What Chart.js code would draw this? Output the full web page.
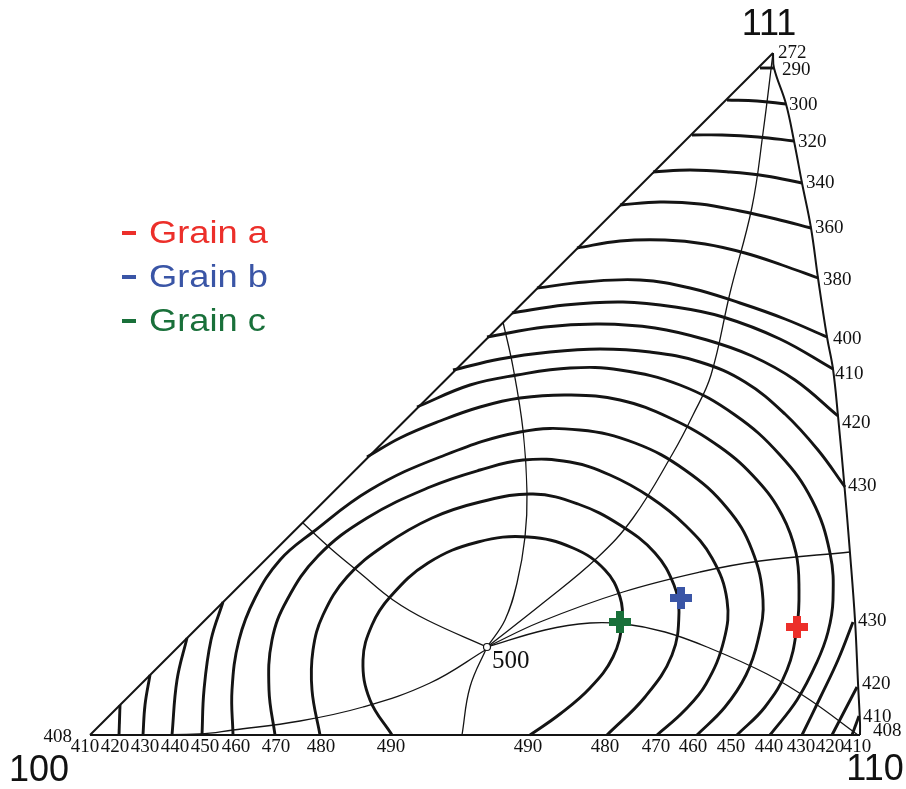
<!DOCTYPE html>
<html>
<head>
<meta charset="utf-8">
<script src="https://cdn.jsdelivr.net/npm/chart.js@4.4.1/dist/chart.umd.min.js"></script>
<style>
  html, body { margin: 0; padding: 0; background: #fff; }
  #wrap { width: 906px; height: 789px; }
</style>
</head>
<body>
<div id="wrap"><canvas id="ipf"></canvas></div>
<script>
// all coordinates are in figure units (x right, y down)

// triangle outline
const leftEdge = [[90,735],[773,53]];
const bottomEdge = [[90,735],[860,735]];
const rightEdge = [[773,53],[774,68],[786,104],[794,141],[802,183],[811,228],[818,278],[827,337],[833,369],[838,416],[844,481],[850,553],[855,620],[858,683],[860,723],[860,735]];

// contours running from the left edge to the right edge
const c290 = [[760,68],[767,68],[774,68]];
const c300 = [[727,100],[757,101],[786,104]];
const c320 = [[692,135],[722,135],[758,137],[794,141]];
const c340 = [[653,172],[690,170],[730,172],[766,176],[802,183]];
const c360 = [[620,205],[660,202],[700,204],[740,211],[776,219],[811,228]];
const c380 = [[577,248],[620,241],[665,240],[705,244],[745,253],[782,265],[818,278]];
const c400 = [[537,288],[585,282],[640,280],[690,288],[740,303],[785,319],[827,337]];
const c410 = [[512,313],[565,305],[623,302],[675,307],[723,317],[780,339],[833,369]];
const c420 = [[487,337],[545,327],[600,324],[655,328],[707,340],[752,356],[795,380],[838,416]];
const c430 = [[453,370],[500,359],[550,352],[600,349],[650,352],[700,362],[745,382],[785,414],[818,450],[845,487]];

// contours from the left edge round to the bottom
const c440 = [[417,407],[470,385],[517,375],[570,368],[620,370],[680,385],[735,415],[780,455],[812,500],[830,553],[833,600],[828,632],[817,662],[797,700],[770,735]];
const c450 = [[367,457],[400,438],[440,421],[480,407],[520,398],[570,395],[620,400],[670,418],[720,447],[757,480],[782,515],[796,553],[799,590],[797,627],[787,670],[765,707],[737,735]];

// closed arches round the 500 maximum
const c460 = [[233,735],[232,690],[239,640],[255,598],[280,560],[313,532],[370,490],[440,457],[520,432],[580,430],[635,443],[685,470],[727,508],[752,550],[763,600],[758,640],[746,675],[725,707],[697,735]];
const c470 = [[275,735],[269,690],[272,640],[287,600],[318,556],[367,518],[430,487],[480,470],[523,460],[570,462],[610,475],[650,497],[685,525],[712,558],[727,600],[724,640],[706,684],[684,711],[657,735]];
const c480 = [[320,735],[312,690],[313,650],[323,615],[347,577],[385,545],[432,518],[480,502],[533,494],[578,504],[620,525],[655,553],[674,585],[679,612],[672,655],[645,697],[607,735]];
const c490 = [[392,735],[370,700],[363,660],[372,625],[390,597],[428,563],[478,542],[528,537],[573,548],[605,570],[620,597],[622,623],[613,657],[590,688],[560,714],[530,735]];

// short pieces in the two bottom corners
const c430r = [[853,622],[838,660],[820,698],[802,735]];
const c420r = [[857,687],[845,710],[832,735]];
const c410r = [[859,716],[852,735]];
const c450l = [[223,602],[211,640],[204,690],[202,735]];
const c440l = [[187,638],[177,680],[172,735]];
const c430l = [[150,675],[145,705],[143,735]];
const c420l = [[120,705],[119,735]];

// thin lines through the 500 point
const peak = [487,647];
const thinToApex = [[487,647],[543,603],[597,558],[633,518],[673,453],[693,415],[711,375],[730,293],[752,207],[763,133],[773,53]];
const thinToRight = [[487,647],[540,622],[623,592],[700,572],[760,561],[850,552]];
const thinToCorner = [[487,647],[545,630],[590,623],[625,624],[665,632],[707,647],[767,674],[810,700],[858,735]];
const thinUp = [[487,647],[505,620],[517,583],[525,537],[527,493],[523,430],[513,367],[503,322]];
const thinLeft = [[487,647],[427,620],[393,600],[360,573],[330,548],[303,523]];
const thinDown = [[487,647],[470,687],[462,735]];
const thinBottom = [[487,649],[430,683],[363,707],[300,721],[233,730],[200,734],[90,735]];

// grains
const grainNames = ['Grain a', 'Grain b', 'Grain c'];
const grainColors = ['#ec2f2a', '#3a55a6', '#19703a'];
const grainPoints = [[797,627],[681,598],[620,622]];

// labels
const rightLabels = ['272','290','300','320','340','360','380','400','410','420','430','430','420','410','408'];
const rightLabelAt = [[778,53],[782,70],[789,105],[798,142],[806,183],[815,228],[823,280],[833,339],[835,374],[842,423],[848,486],[858,621],[862,684],[863,717],[873,731]];
const bottomLabels = ['410','420','430','440','450','460','470','480','490','490','480','470','460','450','440','430','420','410'];
const bottomLabelX = [85,115,145,175,205,236,276,321,391,528,605,656,693,731,769,801,830,857];
const cornerNames = ['100', '110', '111'];
const cornerNameAt = [[39,771],[875,770],[769,25]];

const thick = [c290,c300,c320,c340,c360,c380,c400,c410,c420,c430,c440,c450,c460,c470,c480,c490,
               c430r,c420r,c410r,c450l,c440l,c430l,c420l];
const thin = [thinToApex,thinToRight,thinToCorner,thinUp,thinLeft,thinDown,thinBottom];

const xy = pts => pts.map(([x, y]) => ({ x, y }));
const lineSet = (pts, w, t) => ({
  data: xy(pts), showLine: true, borderColor: '#141414', borderWidth: w,
  pointRadius: 0, pointHoverRadius: 0, tension: t, fill: false
});

const datasets = [];
grainPoints.forEach((p, i) => datasets.push({
  data: xy([p]), pointStyle: 'cross', pointRadius: 11, pointBorderWidth: 8,
  pointBorderColor: grainColors[i], borderColor: grainColors[i], showLine: false
}));
datasets.push({
  data: xy([peak]), pointRadius: 3.5, pointBackgroundColor: '#fff',
  pointBorderColor: '#141414', pointBorderWidth: 1.2, showLine: false
});
thick.forEach(c => datasets.push(lineSet(c, 2.9, 0.4)));
thin.forEach(c => datasets.push(lineSet(c, 1.3, 0.4)));
datasets.push(lineSet(leftEdge, 2, 0));
datasets.push(lineSet(bottomEdge, 2, 0));
datasets.push(lineSet(rightEdge, 2, 0.4));

const labelPlugin = {
  id: 'labels',
  afterDatasetsDraw(chart) {
    const { ctx, scales: { x, y } } = chart;
    const px = v => x.getPixelForValue(v);
    const py = v => y.getPixelForValue(v);
    ctx.save();
    ctx.fillStyle = '#111';
    ctx.textBaseline = 'middle';
    ctx.font = '19px "Liberation Serif", "DejaVu Serif", serif';
    ctx.textAlign = 'left';
    rightLabels.forEach((t, i) => ctx.fillText(t, px(rightLabelAt[i][0]), py(rightLabelAt[i][1])));
    ctx.textAlign = 'center';
    bottomLabels.forEach((t, i) => ctx.fillText(t, px(bottomLabelX[i]), py(747)));
    ctx.textAlign = 'right';
    ctx.fillText('408', px(72), py(737));
    ctx.textAlign = 'left';
    ctx.font = '25px "Liberation Serif", "DejaVu Serif", serif';
    ctx.fillText('500', px(492), py(661));

    ctx.textAlign = 'center';
    ctx.font = '36px "Liberation Sans", Arial, sans-serif';
    cornerNames.forEach((t, i) => ctx.fillText(t, px(cornerNameAt[i][0]), py(cornerNameAt[i][1])));

    // legend: the scan's lettering is a little wider than Arial
    ctx.textAlign = 'left';
    ctx.font = '31px "Liberation Sans", Arial, sans-serif';
    grainNames.forEach((t, i) => {
      const ly = 233 + i * 44;
      ctx.fillStyle = grainColors[i];
      ctx.fillRect(px(122), py(ly) - 2, 14, 4);
      ctx.save();
      ctx.translate(px(149), py(ly + 1));
      ctx.scale(1.17, 1);
      ctx.fillText(t, 0, 0);
      ctx.restore();
    });
    ctx.restore();
  }
};

new Chart(document.getElementById('ipf'), {
  type: 'scatter',
  data: { datasets },
  options: {
    responsive: true,
    maintainAspectRatio: false,
    animation: false,
    events: [],
    layout: { padding: 0, autoPadding: false },
    plugins: { legend: { display: false }, tooltip: { enabled: false } },
    scales: {
      x: { type: 'linear', min: 0, max: 906, display: false },
      y: { type: 'linear', min: 0, max: 789, reverse: true, display: false }
    }
  },
  plugins: [labelPlugin]
});
</script>
</body>
</html>
